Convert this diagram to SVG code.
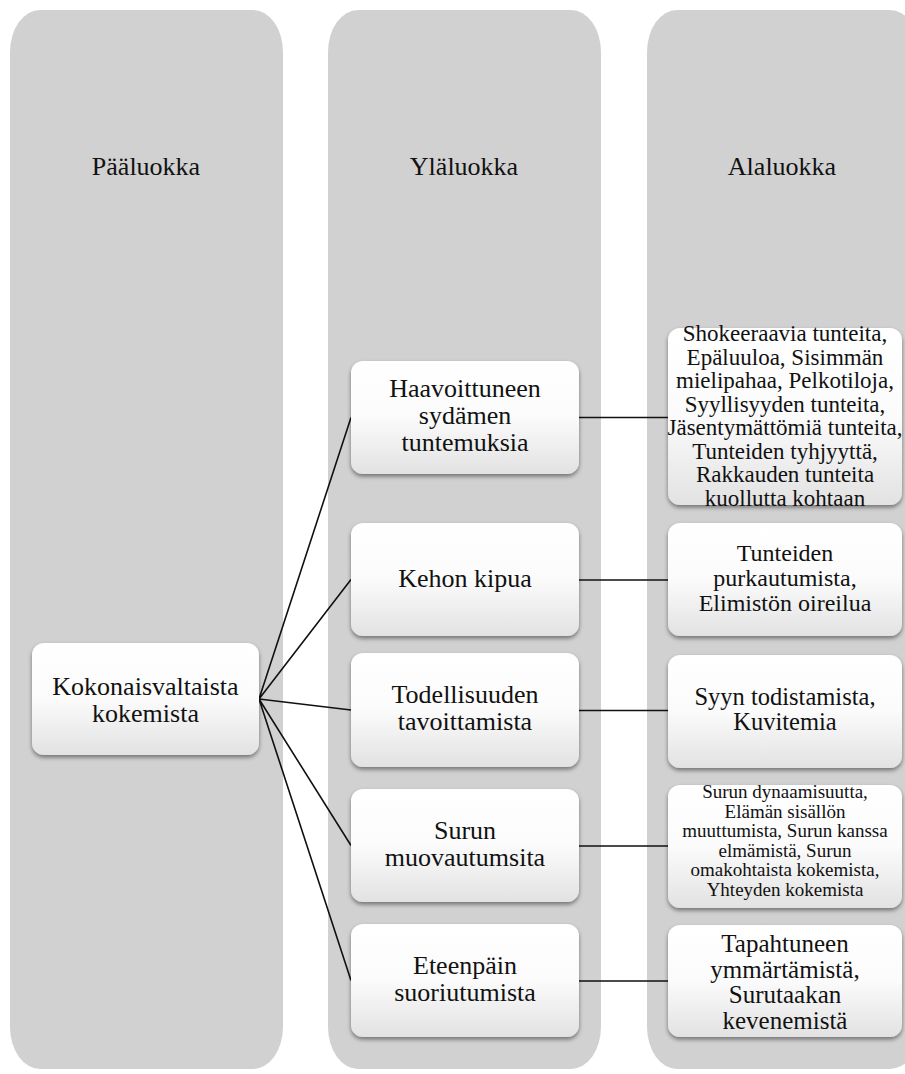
<svg xmlns="http://www.w3.org/2000/svg" width="905" height="1074" viewBox="0 0 905 1074">
<defs>
<linearGradient id="g" x1="0" y1="0" x2="0" y2="1">
<stop offset="0" stop-color="#ffffff"/>
<stop offset="0.5" stop-color="#fbfbfb"/>
<stop offset="1" stop-color="#e2e2e2"/>
</linearGradient>
<filter id="sh" x="-10%" y="-10%" width="120%" height="130%">
<feDropShadow dx="0" dy="2.5" stdDeviation="2" flood-color="#000" flood-opacity="0.45"/>
</filter>
</defs>
<style>
.col{fill:#d1d1d1}
.box{fill:url(#g);filter:url(#sh)}
text{font-family:"Liberation Serif","Times New Roman",serif;fill:#111;text-anchor:middle}
.h{font-size:26px}
.n{font-size:26px}
.c{stroke:#111;stroke-width:1.6;fill:none}
</style>
<rect width="905" height="1074" fill="#ffffff"/>
<g id="columns">
<rect class="col" x="10" y="10" width="273" height="1059" rx="30" ry="42"/>
<rect class="col" x="328" y="10" width="273" height="1059" rx="30" ry="42"/>
<rect class="col" x="647" y="10" width="273" height="1059" rx="30" ry="42"/>
<text class="h" x="146" y="175">Pääluokka</text>
<text class="h" x="464" y="175">Yläluokka</text>
<text class="h" x="782" y="175">Alaluokka</text>
</g>
<g id="connectors">
<path class="c" d="M259 699 L351 417.5 M259 699 L351 579.5 M259 699 L351 710 M259 699 L351 845.5 M259 699 L351 980.5"/>
<path class="c" d="M579 417.5 H668 M579 580 H668 M579 710.5 H668 M579 846 H668 M579 981 H668"/>
</g>
<g id="n-root">
<rect class="box" x="32" y="643" width="227" height="112" rx="12"/>
<text class="n" x="145.5" y="695">Kokonaisvaltaista</text>
<text class="n" x="145.5" y="722">kokemista</text>
</g>
<g id="n-haav">
<rect class="box" x="351" y="361" width="228" height="113" rx="12"/>
<text class="n" x="465" y="397">Haavoittuneen</text>
<text class="n" x="465" y="424">sydämen</text>
<text class="n" x="465" y="451">tuntemuksia</text>
</g>
<g id="n-kehon">
<rect class="box" x="351" y="523" width="228" height="113" rx="12"/>
<text class="n" x="465" y="587">Kehon kipua</text>
</g>
<g id="n-tod">
<rect class="box" x="351" y="653" width="228" height="114" rx="12"/>
<text class="n" x="465" y="703">Todellisuuden</text>
<text class="n" x="465" y="730">tavoittamista</text>
</g>
<g id="n-surun">
<rect class="box" x="351" y="789" width="228" height="113" rx="12"/>
<text class="n" x="465" y="839">Surun</text>
<text class="n" x="465" y="866">muovautumsita</text>
</g>
<g id="n-eteen">
<rect class="box" x="351" y="924" width="228" height="113" rx="12"/>
<text class="n" x="465" y="974">Eteenpäin</text>
<text class="n" x="465" y="1001">suoriutumista</text>
</g>
<g id="a-shok">
<rect class="box" x="668" y="328" width="234" height="177" rx="12"/>
<g font-size="23">
<text x="785" y="341">Shokeeraavia tunteita,</text>
<text x="785" y="364.5">Epäluuloa, Sisimmän</text>
<text x="785" y="388">mielipahaa, Pelkotiloja,</text>
<text x="785" y="411.5">Syyllisyyden tunteita,</text>
<text x="785" y="435">Jäsentymättömiä tunteita,</text>
<text x="785" y="458.5">Tunteiden tyhjyyttä,</text>
<text x="785" y="482">Rakkauden tunteita</text>
<text x="785" y="505.5">kuollutta kohtaan</text>
</g>
</g>
<g id="a-tunt">
<rect class="box" x="668" y="523" width="234" height="113" rx="12"/>
<g font-size="24">
<text x="785" y="561">Tunteiden</text>
<text x="785" y="586">purkautumista,</text>
<text x="785" y="611">Elimistön oireilua</text>
</g>
</g>
<g id="a-syyn">
<rect class="box" x="668" y="655" width="234" height="113" rx="12"/>
<g font-size="24.5">
<text x="785" y="705">Syyn todistamista,</text>
<text x="785" y="730">Kuvitemia</text>
</g>
</g>
<g id="a-dyn">
<rect class="box" x="668" y="785" width="234" height="123" rx="12"/>
<g font-size="19">
<text x="785" y="798">Surun dynaamisuutta,</text>
<text x="785" y="817.5">Elämän sisällön</text>
<text x="785" y="837">muuttumista, Surun kanssa</text>
<text x="785" y="856.5">elmämistä, Surun</text>
<text x="785" y="876">omakohtaista kokemista,</text>
<text x="785" y="895.5">Yhteyden kokemista</text>
</g>
</g>
<g id="a-tapa">
<rect class="box" x="668" y="925" width="234" height="112" rx="12"/>
<g font-size="25">
<text x="785" y="952">Tapahtuneen</text>
<text x="785" y="977.5">ymmärtämistä,</text>
<text x="785" y="1003">Surutaakan</text>
<text x="785" y="1028.5">kevenemistä</text>
</g>
</g>
</svg>
